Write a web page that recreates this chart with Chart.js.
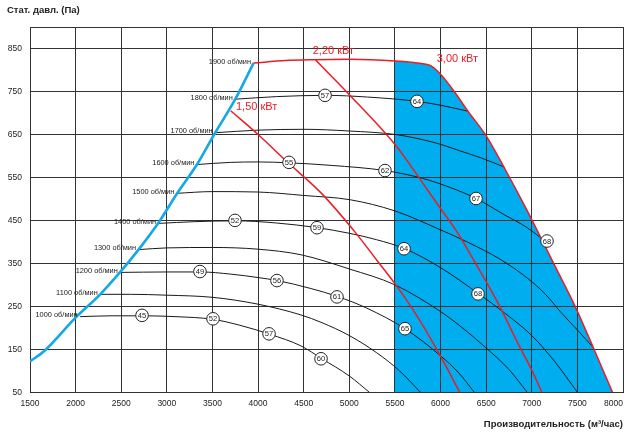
<!DOCTYPE html>
<html>
<head>
<meta charset="utf-8">
<script src="https://cdn.jsdelivr.net/npm/chart.js@4.4.0/dist/chart.umd.min.js"></script>
<style>
  html, body { margin: 0; padding: 0; background: #fff; }
  #wrap { width: 626px; height: 434px; position: relative; }
</style>
</head>
<body>
<div id="wrap"><canvas id="chart"></canvas></div>
<script>
// --- Оси ---
const xTicks = [1500, 2000, 2500, 3000, 3500, 4000, 4500, 5000, 5500, 6000, 6500, 7000, 7500, 8000];
const yTicks = [50, 150, 250, 350, 450, 550, 650, 750, 850, 900];

// --- Граница рабочей зоны (синяя кривая) ---
const limitCurve = [[1500,122],[1650,145],[2010,226],[2270,278],[2490,330],[2690,382],[2910,445],[3110,512],[3330,580],[3530,654],[3750,732],[3950,816]];

// --- Характеристики по оборотам ---
const rpmNames = [1000, 1100, 1200, 1300, 1400, 1500, 1600, 1700, 1800];
const r1000 = [[2050,226],[2400,228],[2730,228],[3100,226],[3500,220],[3800,206],[4130,185],[4470,158],[4700,128],[5000,88],[5220,50]];
const r1100 = [[2270,278],[2600,278],[3000,276],[3500,271],[4000,255],[4470,230],[4700,212],[5000,182],[5300,142],[5550,100],[5780,50]];
const r1200 = [[2490,329],[3000,330],[3370,330],[3700,325],[4000,317],[4210,310],[4570,292],[4870,273],[5190,246],[5610,198],[6000,135],[6200,95],[6370,50]];
const r1300 = [[2690,382],[3000,386],[3500,387],[4000,383],[4470,370],[5000,337],[5500,300],[6000,238],[6210,205],[6490,155],[6750,103],[6950,50]];
const r1400 = [[2910,443],[3300,447],[3750,449],[4200,444],[4650,433],[5000,420],[5300,405],[5610,384],[6000,340],[6420,279],[6700,235],[7000,182],[7250,122],[7500,50]];
const r1500 = [[3110,513],[3500,517],[4000,516],[4500,508],[5010,498],[5500,472],[6000,428],[6320,397],[6650,360],[6950,316],[7150,278],[7320,236],[7500,195],[7680,153]];
const r1600 = [[3330,580],[3700,585],[4000,586],[4340,584],[4800,578],[5390,566],[5800,548],[6100,527],[6390,501],[6700,463],[6950,433],[7150,401]];
const r1700 = [[3530,654],[4000,660],[4500,662],[5000,658],[5500,650],[5800,638],[6000,627],[6210,612],[6450,595],[6700,574]];
const r1800 = [[3750,732],[4200,738],[4740,741],[5200,737],[5740,727],[6000,718],[6300,704]];
const rpmCurves = [r1000, r1100, r1200, r1300, r1400, r1500, r1600, r1700, r1800];
const r1900 = [[3950,816],[4300,822],[4600,824],[5000,825],[5500,821],[5750,816],[5900,809]];

// --- Линии мощности ---
const kw150 = [[3700,705],[4000,650],[4330,584],[4690,514],[5070,421],[5310,355],[5510,300],[5750,225],[6000,134],[6210,50]];
const kw220 = [[4630,823],[5016,739],[5514,623],[5752,553],[5932,498],[6187,421],[6371,355],[6629,258],[6848,164],[7000,102],[7110,50]];
const kw300 = [[5900,809],[6000,790],[6150,750],[6300,704],[6490,650],[6690,576],[6944,475],[7237,351],[7475,250],[7676,153],[7885,50]];
const kwLabels = ['1,50 кВт', '2,20 кВт', '3,00 кВт'];
const kwLabelAt = [[3758,714],[4599,844],[5958,825]];

// --- Уровень шума (в кружках) ---
const noiseValues = [45, 52, 57, 60, 49, 56, 61, 65, 52, 59, 64, 68, 55, 62, 67, 68, 57, 64];
const noiseAt = [[2728,229],[3506,221],[4120,186],[4690,128],[3363,331],[4207,310],[4865,272],[5610,198],
                 [3747,450],[4646,433],[5600,384],[6411,279],[4339,585],[5391,566],[6389,501],[7167,402],
                 [4734,741],[5742,727]];

const zoneStart = 5500;

const FONT = '"Liberation Sans", Arial, sans-serif';
const pts = a => a.map(([x, y]) => ({ x, y }));

// красная огибающая = 1900 об/мин + 3,00 кВт
const envelope = r1900.concat(kw300.slice(1));
const zone = envelope.filter(p => p[0] >= zoneStart);

const datasets = [];
datasets.push({ data: pts(zone), showLine: true, fill: 'start', backgroundColor: '#00aeef',
    borderWidth: 0, pointRadius: 0, cubicInterpolationMode: 'monotone', order: 10 });
rpmCurves.forEach(c => datasets.push({ data: pts(c), showLine: true, borderColor: '#1a1a1a',
    borderWidth: 1, pointRadius: 0, cubicInterpolationMode: 'monotone', order: 6 }));
datasets.push({ data: pts(limitCurve), showLine: true, borderColor: '#13a8e6', borderWidth: 2.6,
    pointRadius: 0, cubicInterpolationMode: 'monotone', order: 5 });
[envelope, kw150, kw220].forEach(c => datasets.push({ data: pts(c), showLine: true, borderColor: '#ec1c24',
    borderWidth: 1.5, pointRadius: 0, cubicInterpolationMode: 'monotone', order: 4 }));
datasets.push({ data: pts(noiseAt), showLine: false, pointRadius: 6.3, pointBackgroundColor: '#fff',
    pointBorderColor: '#222', pointBorderWidth: 1, order: 1 });
const circleIndex = datasets.length - 1;

// сетка поверх заливки
const gridOverFill = {
  id: 'gridOverFill',
  afterDatasetDraw(chart, args) {
    if (args.index !== 0) return;
    chart.scales.x.drawGrid(chart.chartArea);
    chart.scales.y.drawGrid(chart.chartArea);
  }
};

const X_TICK_PAD = 3;
const X_TICK_LH = 17;

const textLabels = {
  id: 'textLabels',
  afterDatasetsDraw(chart) {
    const { ctx, scales: { x, y } } = chart;
    ctx.save();
    ctx.textBaseline = 'middle';

    // подписи оборотов
    ctx.font = '7.4px ' + FONT;
    ctx.fillStyle = '#222';
    ctx.textAlign = 'right';
    rpmNames.concat([1900]).forEach((n, i) => {
      const p = i < rpmCurves.length ? rpmCurves[i][0] : r1900[0];
      ctx.fillText(n + ' об/мин', x.getPixelForValue(p[0]) - 2.5, y.getPixelForValue(p[1]) - 1.5);
    });

    // числа в кружках
    ctx.font = '7.6px ' + FONT;
    ctx.textAlign = 'center';
    chart.getDatasetMeta(circleIndex).data.forEach((el, i) => {
      ctx.fillText(String(noiseValues[i]), el.x, el.y + 0.5);
    });

    // мощность
    ctx.font = '11px ' + FONT;
    ctx.fillStyle = '#ec1c24';
    ctx.textAlign = 'left';
    kwLabels.forEach((t, i) => {
      ctx.fillText(t, x.getPixelForValue(kwLabelAt[i][0]), y.getPixelForValue(kwLabelAt[i][1]));
    });

    // последняя метка оси X, прижата к краю
    ctx.font = '8.5px ' + FONT;
    ctx.fillStyle = '#222';
    ctx.textAlign = 'right';
    const last = xTicks[xTicks.length - 1];
    ctx.fillText(String(last), x.getPixelForValue(last), x.top + X_TICK_PAD + X_TICK_LH / 2);
    ctx.restore();
  }
};

new Chart(document.getElementById('chart'), {
  type: 'scatter',
  data: { datasets },
  options: {
    responsive: true,
    maintainAspectRatio: false,
    animation: false,
    events: [],
    layout: { autoPadding: false, padding: { left: 7, right: 0, top: 0, bottom: 0 } },
    plugins: {
      legend: { display: false },
      tooltip: { enabled: false },
      title: {
        display: true, text: 'Стат. давл. (Па)', align: 'start', color: '#222',
        font: { family: FONT, size: 9.5, weight: 'bold' }, padding: { top: 5, bottom: 10.6 }
      }
    },
    scales: {
      x: {
        type: 'linear', min: xTicks[0], max: xTicks[xTicks.length - 1],
        afterBuildTicks: s => { s.ticks = xTicks.map(v => ({ value: v })); },
        afterFit: s => { s.height = 41.7; },
        ticks: {
          autoSkip: false, maxRotation: 0, padding: X_TICK_PAD, color: '#222',
          font: { family: FONT, size: 8.5, lineHeight: X_TICK_LH / 8.5 },
          callback: v => v === xTicks[xTicks.length - 1] ? '' : String(v)
        },
        grid: { color: '#333', lineWidth: 1, drawTicks: false },
        border: { color: '#222', width: 1 },
        title: {
          display: true, text: 'Производительность (м³/час)', align: 'end', color: '#222',
          font: { family: FONT, size: 9.5, weight: 'bold' }, padding: { top: 0, bottom: 4.3 }
        }
      },
      y: {
        type: 'linear', min: yTicks[0], max: yTicks[yTicks.length - 1],
        afterBuildTicks: s => { s.ticks = yTicks.map(v => ({ value: v })); },
        afterFit: s => { s.width = 23; },
        ticks: {
          padding: 8, color: '#222', font: { family: FONT, size: 8.5 },
          callback: v => v === yTicks[yTicks.length - 1] ? '' : String(v)
        },
        grid: { color: '#333', lineWidth: 1, drawTicks: false },
        border: { color: '#222', width: 1 }
      }
    }
  },
  plugins: [gridOverFill, textLabels]
});
</script>
</body>
</html>
